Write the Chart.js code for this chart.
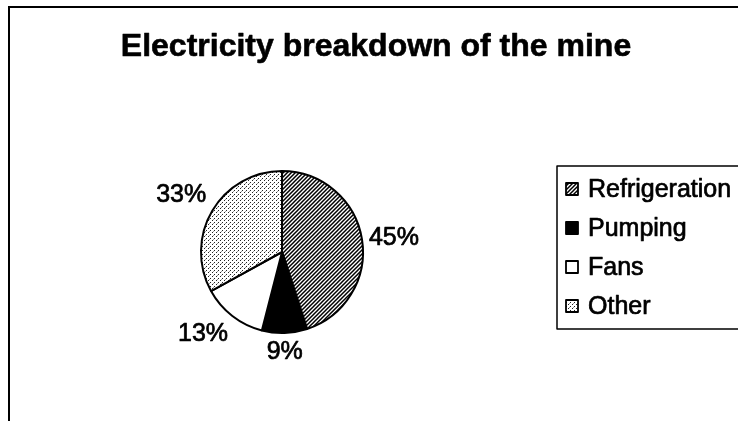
<!DOCTYPE html>
<html>
<head>
<meta charset="utf-8">
<script src="https://cdn.jsdelivr.net/npm/chart.js@4.4.1/dist/chart.umd.min.js"></script>
<style>
  html, body { margin: 0; padding: 0; background: #fff; }
  #wrap { width: 738px; height: 421px; position: relative; }
</style>
</head>
<body>
<div id="wrap"><canvas id="c" width="738" height="421"></canvas></div>
<script>
// Electricity use of the mine, share of total (%)
const categories = ['Refrigeration', 'Pumping', 'Fans', 'Other'];
const shares = [45, 9, 13, 33];
const chartTitle = 'Electricity breakdown of the mine';

const FONT = '"Liberation Sans", Arial, Helvetica, sans-serif';

// Fill patterns for the slices
function hatchPattern() {
  const c = document.createElement('canvas');
  c.width = 4; c.height = 4;
  const g = c.getContext('2d');
  g.fillStyle = '#fff'; g.fillRect(0, 0, 4, 4);
  g.strokeStyle = '#000'; g.lineWidth = 1.5;
  g.beginPath();
  g.moveTo(-1, 5); g.lineTo(5, -1);
  g.moveTo(-1, 1); g.lineTo(1, -1);
  g.moveTo(3, 5); g.lineTo(5, 3);
  g.stroke();
  return g.createPattern(c, 'repeat');
}
function dotPattern() {
  const c = document.createElement('canvas');
  c.width = 4; c.height = 4;
  const g = c.getContext('2d');
  g.fillStyle = '#fff'; g.fillRect(0, 0, 4, 4);
  g.fillStyle = '#222';
  g.fillRect(0, 0, 1, 1);
  g.fillRect(2, 2, 1, 1);
  g.fillStyle = '#999';
  g.fillRect(1, 3, 1, 1);
  return g.createPattern(c, 'repeat');
}
const fills = [hatchPattern(), '#000000', '#ffffff', dotPattern()];

// Text drawn with a thin outline so it carries the same weight as the print
function heavyText(ctx, text, x, y, w) {
  ctx.lineWidth = w;
  ctx.strokeStyle = '#000';
  ctx.lineJoin = 'round';
  ctx.strokeText(text, x, y);
  ctx.fillText(text, x, y);
}

// Frame, title, value labels and legend
const decorations = {
  id: 'decorations',
  beforeDraw(chart) {
    const ctx = chart.ctx;
    ctx.save();
    ctx.fillStyle = '#fff';
    ctx.fillRect(0, 0, chart.width, chart.height);
    ctx.strokeStyle = '#000';
    ctx.lineWidth = 2;
    ctx.beginPath();
    ctx.moveTo(9, chart.height);
    ctx.lineTo(9, 7);
    ctx.lineTo(chart.width, 7);
    ctx.stroke();
    ctx.fillStyle = '#000';
    ctx.font = 'bold 32px ' + FONT;
    ctx.textAlign = 'center';
    ctx.textBaseline = 'middle';
    heavyText(ctx, chartTitle, 376, 47, 0.6);
    ctx.restore();
  },
  afterDatasetsDraw(chart) {
    const ctx = chart.ctx;
    const meta = chart.getDatasetMeta(0);
    ctx.save();
    ctx.fillStyle = '#000';
    ctx.font = '25px ' + FONT;
    meta.data.forEach((arc, i) => {
      const p = arc.getProps(['x', 'y', 'startAngle', 'endAngle', 'outerRadius'], true);
      const mid = (p.startAngle + p.endAngle) / 2;
      const r = p.outerRadius + 7;
      const cx = Math.cos(mid), sy = Math.sin(mid);
      const ax = p.x + r * cx, ay = p.y + r * sy;
      ctx.textAlign = cx > 0.3 ? 'left' : (cx < -0.3 ? 'right' : 'center');
      ctx.textBaseline = sy > 0.3 ? 'top' : (sy < -0.3 ? 'bottom' : 'middle');
      heavyText(ctx, chart.data.datasets[0].data[i] + '%', ax, ay, 0.7);
    });
    // legend
    const lx = 557, ly = 166, lh = 163;
    ctx.strokeStyle = '#000';
    ctx.lineWidth = 1.5;
    ctx.strokeRect(lx, ly, chart.width + 10 - lx, lh);
    ctx.font = '25px ' + FONT;
    ctx.textAlign = 'left';
    ctx.textBaseline = 'middle';
    chart.data.labels.forEach((lab, i) => {
      const y = 189 + i * 39;
      ctx.fillStyle = chart.data.datasets[0].backgroundColor[i];
      ctx.fillRect(566, y - 6, 12, 12);
      ctx.lineWidth = 1.8;
      ctx.strokeStyle = '#000';
      ctx.strokeRect(566, y - 6, 12, 12);
      ctx.fillStyle = '#000';
      heavyText(ctx, lab, 588, y + 1, 0.7);
    });
    ctx.restore();
  }
};

new Chart(document.getElementById('c'), {
  type: 'pie',
  data: {
    labels: categories,
    datasets: [{
      data: shares,
      backgroundColor: fills,
      borderColor: '#000',
      borderWidth: 2
    }]
  },
  options: {
    responsive: false,
    animation: false,
    layout: { padding: { left: 200, right: 374, top: 170, bottom: 87 } },
    plugins: {
      legend: { display: false },
      title: { display: false },
      tooltip: { enabled: false }
    }
  },
  plugins: [decorations]
});
</script>
</body>
</html>
